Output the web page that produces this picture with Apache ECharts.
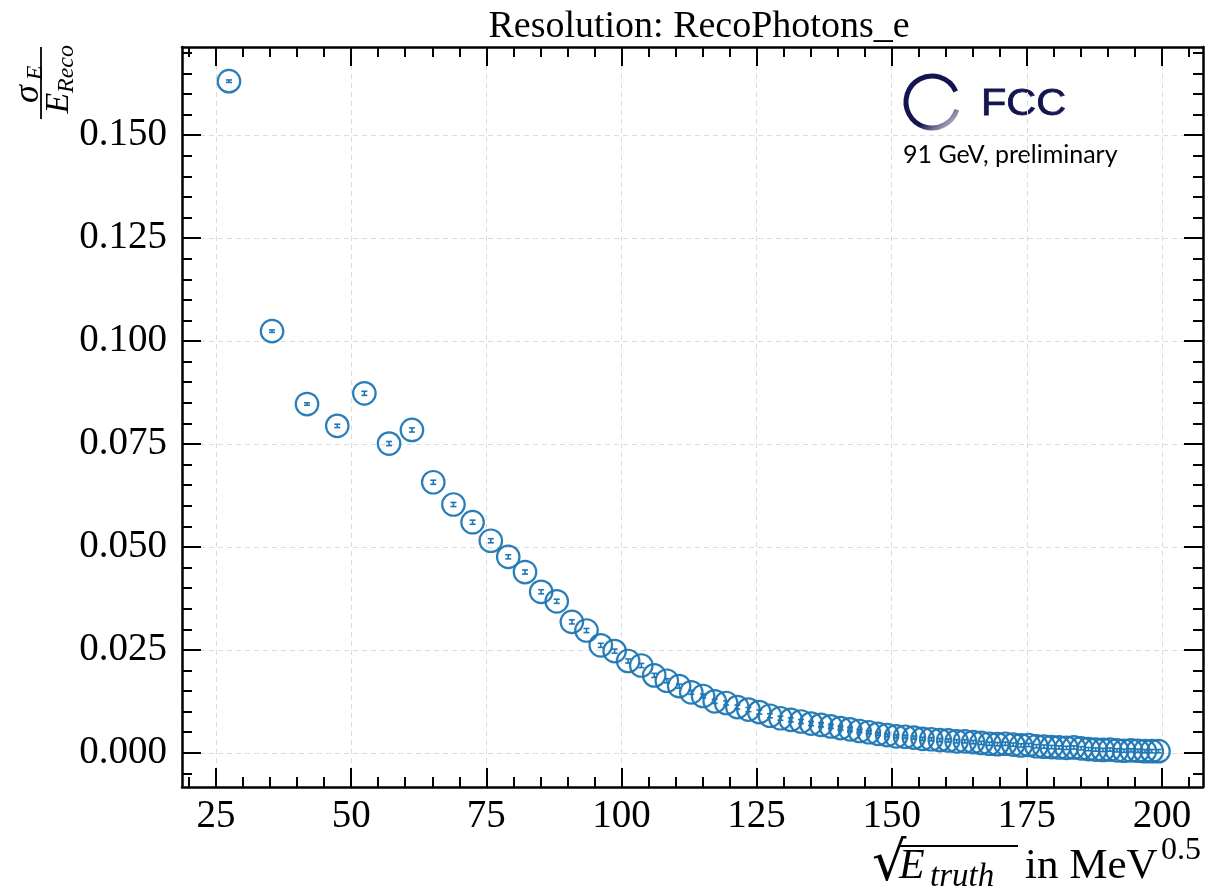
<!DOCTYPE html>
<html>
<head>
<meta charset="utf-8">
<script src="https://cdn.jsdelivr.net/npm/echarts@6/dist/echarts.min.js"></script>
<style>
  html, body { margin: 0; padding: 0; background: #fff; }
  #chart { width: 1209px; height: 892px; }
</style>
</head>
<body>
<div id="chart"></div>
<script>
// sqrt(E_truth) in MeV^0.5
var xValues = [27.39, 35.36, 41.83, 47.43, 52.44, 57.01, 61.24, 65.19, 68.92, 72.46,
  75.83, 79.06, 82.16, 85.15, 88.03, 90.83, 93.54, 96.18, 98.74, 101.24,
  103.68, 106.07, 108.40, 110.68, 112.92, 115.11, 117.26, 119.37, 121.45, 123.49,
  125.50, 127.48, 129.42, 131.34, 133.23, 135.09, 136.93, 138.74, 140.53, 142.30,
  144.05, 145.77, 147.48, 149.16, 150.83, 152.48, 154.11, 155.72, 157.32, 158.90,
  160.47, 162.02, 163.55, 165.08, 166.58, 168.08, 169.56, 171.03, 172.48, 173.93,
  175.36, 176.78, 178.19, 179.58, 180.97, 182.35, 183.71, 185.07, 186.41, 187.75,
  189.08, 190.39, 191.70, 193.00, 194.29, 195.58, 196.85, 198.12, 199.37];
// sigma_E / E_reco
var yValues = [0.1631, 0.1024, 0.0847, 0.0794, 0.0873, 0.0751, 0.0784, 0.0657, 0.0603, 0.0560,
  0.0515, 0.0476, 0.0439, 0.0391, 0.0368, 0.0318, 0.0297, 0.0261, 0.0247, 0.0223,
  0.0212, 0.0188, 0.0175, 0.0162, 0.0147, 0.0138, 0.0125, 0.0121, 0.0111, 0.0105,
  0.0099, 0.0090, 0.0084, 0.0080, 0.0076, 0.0071, 0.0068, 0.0064, 0.0060, 0.0057,
  0.0053, 0.0050, 0.0046, 0.0043, 0.0040, 0.0039, 0.0037, 0.0034, 0.0033, 0.0031,
  0.0030, 0.0028, 0.0028, 0.0026, 0.0024, 0.0022, 0.0021, 0.0022, 0.0020, 0.0018,
  0.0019, 0.0016, 0.0015, 0.0014, 0.0013, 0.0012, 0.0013, 0.0011, 0.0009, 0.0008,
  0.0007, 0.0008, 0.0006, 0.0005, 0.0006, 0.0005, 0.0004, 0.0004, 0.0004];
// error on the resolution
var yErrors = [0.0003, 0.0003, 0.0003, 0.0004, 0.0005, 0.0005, 0.0005, 0.0005, 0.0005, 0.0005,
  0.0005, 0.0005, 0.0005, 0.0005, 0.0005, 0.0005, 0.0005, 0.0005, 0.0005, 0.0005,
  0.0005, 0.0005, 0.0005, 0.0005, 0.0005, 0.0005, 0.0005, 0.0005, 0.0005, 0.0005,
  0.0005, 0.0005, 0.0005, 0.0005, 0.0005, 0.0005, 0.0005, 0.0005, 0.0005, 0.0005,
  0.0004, 0.0004, 0.0004, 0.0004, 0.0004, 0.0004, 0.0004, 0.0004, 0.0004, 0.0004,
  0.0004, 0.0004, 0.0004, 0.0004, 0.0004, 0.0004, 0.0004, 0.0004, 0.0004, 0.0004,
  0.0004, 0.0004, 0.0004, 0.0004, 0.0004, 0.0004, 0.0004, 0.0004, 0.0004, 0.0004,
  0.0004, 0.0004, 0.0004, 0.0004, 0.0004, 0.0004, 0.0004, 0.0004, 0.0004];

var xMajorTicks = [25, 50, 75, 100, 125, 150, 175, 200];
var xMinorTicks = [20, 30, 35, 40, 45, 55, 60, 65, 70, 80, 85, 90, 95, 105, 110, 115, 120,
  130, 135, 140, 145, 155, 160, 165, 170, 180, 185, 190, 195, 205];
var yMajorTicks = [0, 0.025, 0.05, 0.075, 0.1, 0.125, 0.15];
var yMinorTicks = [-0.005, 0.005, 0.01, 0.015, 0.02, 0.03, 0.035, 0.04, 0.045, 0.055, 0.06,
  0.065, 0.07, 0.08, 0.085, 0.09, 0.095, 0.105, 0.11, 0.115, 0.12, 0.13, 0.135, 0.14,
  0.145, 0.155, 0.16, 0.165, 0.17];

var X_MIN = 18.7, X_MAX = 207.6;
var Y_MIN = -0.0083, Y_MAX = 0.1714;
var BLUE = '#1f77b4';
var NAVY = '#14154f';
var SERIF = '"Liberation Serif", "DejaVu Serif", serif';

var chart = echarts.init(document.getElementById('chart'), null, { renderer: 'canvas' });

var points = [];
for (var i = 0; i < xValues.length; i++) points.push([xValues[i], yValues[i], yErrors[i]]);

// grid 0 holds the frame + major ticks, grid 1 (same rect) only the minor ticks
function xAxisDef(grid, pos, ticks, len, labels) {
  return {
    type: 'value', gridIndex: grid, position: pos, min: X_MIN, max: X_MAX,
    axisLine: { show: grid === 0, onZero: false, lineStyle: { color: '#000', width: 2.5 } },
    axisTick: { show: true, inside: true, length: len, customValues: ticks, lineStyle: { color: '#000', width: 2 } },
    axisLabel: { show: labels, customValues: ticks, margin: 10, color: '#000', fontSize: 39, fontFamily: SERIF },
    splitLine: { show: labels, lineStyle: { color: '#dcdcdc', type: [5, 4], width: 1 } }
  };
}
function yAxisDef(grid, pos, ticks, len, labels) {
  return {
    type: 'value', gridIndex: grid, position: pos, min: Y_MIN, max: Y_MAX,
    axisLine: { show: grid === 0, onZero: false, lineStyle: { color: '#000', width: 2.5 } },
    axisTick: { show: true, inside: true, length: len, customValues: ticks, lineStyle: { color: '#000', width: 2 } },
    axisLabel: {
      show: labels, customValues: ticks, margin: 15, color: '#000', fontSize: 39, fontFamily: SERIF,
      formatter: function (v) { return v.toFixed(3); }
    },
    splitLine: { show: labels, lineStyle: { color: '#dcdcdc', type: [5, 4], width: 1 } }
  };
}

var gridRect = { left: 182, right: 6, top: 47, bottom: 105, containLabel: false };

var option = {
  animation: false,
  backgroundColor: '#fff',
  title: {
    text: 'Resolution: RecoPhotons_e',
    left: 694, top: 3, textAlign: 'center',
    textStyle: { fontFamily: SERIF, fontWeight: 'normal', fontSize: 38, color: '#000' }
  },
  grid: [Object.assign({}, gridRect), Object.assign({}, gridRect)],
  xAxis: [
    xAxisDef(0, 'bottom', xMajorTicks, 19, true),
    xAxisDef(0, 'top', xMajorTicks, 19, false),
    xAxisDef(1, 'bottom', xMinorTicks, 10, false),
    xAxisDef(1, 'top', xMinorTicks, 10, false)
  ],
  yAxis: [
    yAxisDef(0, 'left', yMajorTicks, 19, true),
    yAxisDef(0, 'right', yMajorTicks, 19, false),
    yAxisDef(1, 'left', yMinorTicks, 10, false),
    yAxisDef(1, 'right', yMinorTicks, 10, false)
  ],
  series: [
    {
      type: 'custom',
      xAxisIndex: 0, yAxisIndex: 0,
      data: points,
      z: 3,
      renderItem: function (params, api) {
        var x = api.value(0), y = api.value(1), e = api.value(2);
        var top = api.coord([x, y + e]);
        var bot = api.coord([x, y - e]);
        var st = { stroke: BLUE, lineWidth: 1.6 };
        return {
          type: 'group',
          children: [
            { type: 'line', shape: { x1: top[0], y1: top[1], x2: bot[0], y2: bot[1] }, style: st },
            { type: 'line', shape: { x1: top[0] - 3, y1: top[1], x2: top[0] + 3, y2: top[1] }, style: st },
            { type: 'line', shape: { x1: bot[0] - 3, y1: bot[1], x2: bot[0] + 3, y2: bot[1] }, style: st }
          ]
        };
      }
    },
    {
      type: 'scatter',
      xAxisIndex: 0, yAxisIndex: 0,
      data: points,
      symbol: 'circle',
      symbolSize: 22.5,
      z: 4,
      itemStyle: { color: 'rgba(0,0,0,0)', borderColor: BLUE, borderWidth: 2.2, opacity: 0.95 }
    }
  ],
  graphic: [
    // y axis label: sigma_E / E_Reco, rotated
    {
      type: 'group', x: 41, y: 83, rotation: Math.PI / 2,
      children: [
        { type: 'text', x: -11, y: -12, style: { text: 'σ', font: 'italic 36px ' + SERIF, fill: '#000', align: 'center', verticalAlign: 'middle' } },
        { type: 'text', x: 10, y: -5, style: { text: 'E', font: 'italic 24px ' + SERIF, fill: '#000', align: 'center', verticalAlign: 'middle' } },
        { type: 'line', shape: { x1: -36, y1: 0, x2: 36, y2: 0 }, style: { stroke: '#000', lineWidth: 1.8 } },
        { type: 'text', x: -20, y: 18, style: { text: 'E', font: 'italic 34px ' + SERIF, fill: '#000', align: 'center', verticalAlign: 'middle' } },
        { type: 'text', x: 14, y: 26, style: { text: 'Reco', font: 'italic 24px ' + SERIF, fill: '#000', align: 'center', verticalAlign: 'middle' } }
      ]
    },
    // x axis label: sqrt(E_truth) in MeV^0.5
    { type: 'text', x: 872, y: 893, style: { text: '√', font: '54px "DejaVu Serif", serif', fill: '#000', align: 'left', verticalAlign: 'bottom' } },
    { type: 'line', shape: { x1: 899, y1: 846, x2: 1018, y2: 846 }, style: { stroke: '#000', lineWidth: 2 } },
    { type: 'text', x: 899, y: 888, style: { text: 'E', font: 'italic 42px ' + SERIF, fill: '#000', align: 'left', verticalAlign: 'bottom' } },
    { type: 'text', x: 930, y: 894, style: { text: 'truth', font: 'italic 33px ' + SERIF, fill: '#000', align: 'left', verticalAlign: 'bottom' } },
    { type: 'text', x: 1025, y: 888, style: { text: 'in MeV', font: '43px ' + SERIF, fill: '#000', align: 'left', verticalAlign: 'bottom' } },
    { type: 'text', x: 1161, y: 867, style: { text: '0.5', font: '32px ' + SERIF, fill: '#000', align: 'left', verticalAlign: 'bottom' } },
    // FCC logo
    {
      type: 'arc', shape: { cx: 932, cy: 102, r: 26, startAngle: 0.3, endAngle: Math.PI * 2 - 0.42, clockwise: true },
      style: {
        fill: 'none', lineWidth: 5,
        stroke: new echarts.graphic.LinearGradient(0, 0, 1, 1, [
          { offset: 0, color: NAVY }, { offset: 0.6, color: NAVY }, { offset: 1, color: '#f2f2f6' }
        ])
      }
    },
    { type: 'text', x: 981, y: 123, scaleX: 1.12, style: { text: 'FCC', font: '37px "Liberation Sans", Arial, sans-serif', fill: NAVY, stroke: NAVY, lineWidth: 0.8, align: 'left', verticalAlign: 'bottom' } },
    { type: 'text', x: 903, y: 167, style: { text: '91 GeV, preliminary', font: '25px Lato, "Open Sans", sans-serif', fill: '#000', align: 'left', verticalAlign: 'bottom' } }
  ]
};

chart.setOption(option);
</script>
</body>
</html>
